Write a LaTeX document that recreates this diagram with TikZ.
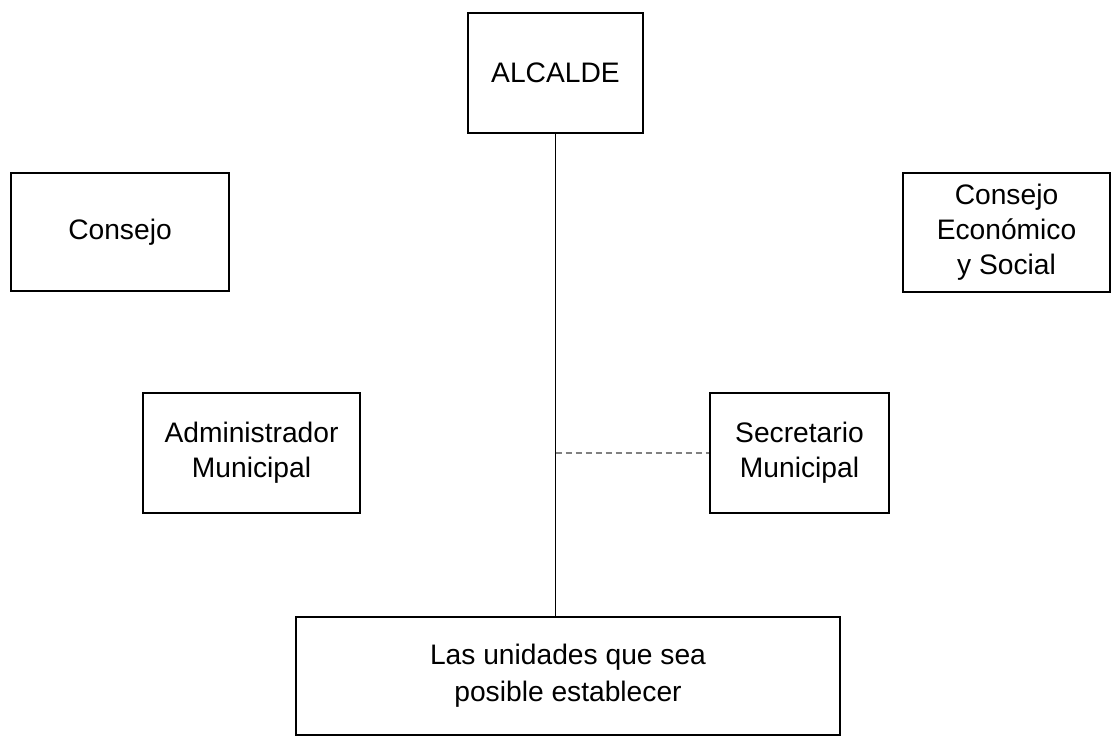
\documentclass[tikz,border=0pt]{standalone}
\usepackage{fontspec}
\setmainfont{Liberation Sans}

\begin{document}
\begin{tikzpicture}[x=0.5pt,y=-0.5pt,
	cargo/.style={draw,line width=1.2pt,align=center,inner sep=0pt,
		font=\fontsize{14.1}{17.5}\selectfont},
	enlace/.style={line width=0.7pt}]
	\useasboundingbox (0,0) rectangle (1113,737);

	\node[cargo,minimum width=87.5pt,minimum height=60pt] (alcalde) at (555.5,73) {ALCALDE};
	\node[cargo,minimum width=109pt,minimum height=59pt] (consejo) at (120,232) {Consejo};
	\node[cargo,minimum width=103.5pt,minimum height=59.5pt] (ces) at (1006.5,232.5) {Consejo\\Económico\\y Social};
	\node[cargo,minimum width=108.5pt,minimum height=60pt] (admin) at (251.5,453) {Administrador\\Municipal};
	\node[cargo,minimum width=89.5pt,minimum height=60pt] (secretario) at (799.5,453) {Secretario\\Municipal};
	\node[cargo,minimum width=272pt,minimum height=59pt,
		font=\fontsize{14.1}{18.5}\selectfont] (unidades) at (568,676) {Las unidades que sea\\posible establecer};

	\draw[enlace] (alcalde.south) -- (alcalde.south |- unidades.north);
	\coordinate (cruce) at (alcalde.south |- secretario.west);
	\draw[enlace,gray,densely dashed] (cruce) -- (secretario.west);

\end{tikzpicture}
\end{document}
